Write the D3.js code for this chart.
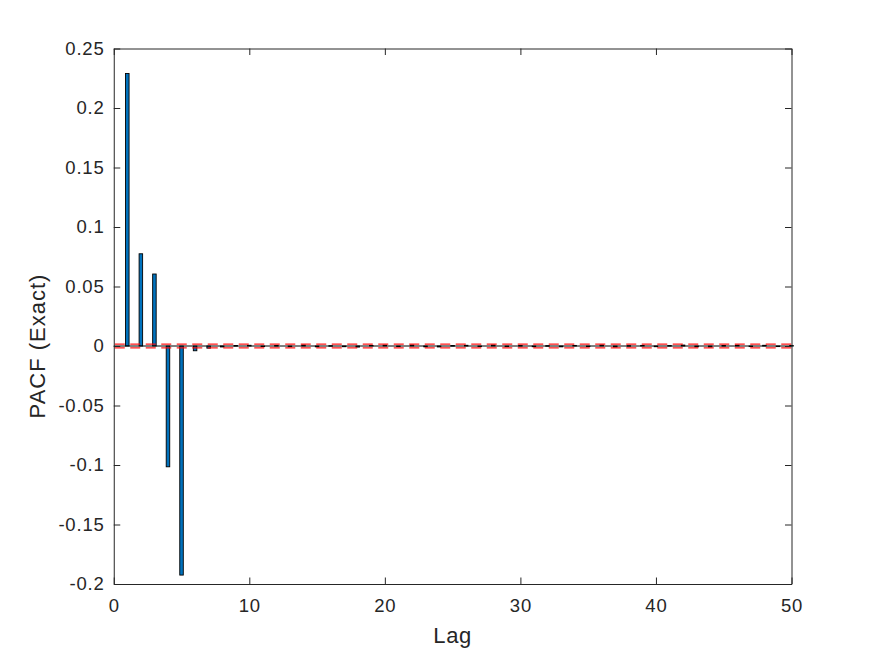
<!DOCTYPE html>
<html>
<head>
<meta charset="utf-8">
<script src="https://cdn.jsdelivr.net/npm/d3@7"></script>
<style>
  body { margin: 0; background: #fff; }
  svg { display: block; }
  text { font-family: "Liberation Sans", Arial, Helvetica, sans-serif; fill: #262626; }
</style>
</head>
<body>
<svg id="chart" width="875" height="656"></svg>
<script>
// ---- data ----
const lags = d3.range(1, 51);
const pacf = [
  0.229, 0.0775, 0.0605, -0.1015, -0.1925, -0.0040, -0.0018, -0.0008, 0.0004, 0.0006,
  -0.0005, 0.0004, -0.0006, 0.0008, -0.0007, 0.0003, -0.0006, -0.0009, 0.0005, 0.0007,
  -0.0004, 0.0008, -0.0007, -0.0008, 0.0004, 0.0006, -0.0003, 0.0008, -0.0005, 0.0004,
  -0.0006, 0.0003, -0.0007, 0.0005, -0.0004, 0.0008, -0.0008, 0.0003, 0.0005, -0.0006,
  0.0004, 0.0008, -0.0007, -0.0008, 0.0004, 0.0007, -0.0005, 0.0006, -0.0003, 0.0004
];
const confBound = 0.0016;
const xTicks = [0, 10, 20, 30, 40, 50];
const yTicks = [-0.2, -0.15, -0.1, -0.05, 0, 0.05, 0.1, 0.15, 0.2, 0.25];
const xLabel = "Lag";
const yLabel = "PACF (Exact)";

// ---- layout ----
const mLeft = 113.75, mRight = 791.5, mTop = 48.5, mBottom = 584;
const svg = d3.select("#chart");
const x = d3.scaleLinear().domain([0, 50]).range([mLeft, mRight]);
const y = d3.scaleLinear().domain([-0.2, 0.25]).range([mBottom, mTop]);
const axisColor = "#262626";
const barW = 0.26;

// bars
svg.append("g").selectAll("rect").data(lags).join("rect")
  .attr("x", d => x(d - barW / 2))
  .attr("width", x(barW) - x(0))
  .attr("y", (d, i) => y(Math.max(0, pacf[i])))
  .attr("height", (d, i) => Math.max(0.6, Math.abs(y(pacf[i]) - y(0))))
  .attr("fill", "#0072BD")
  .attr("stroke", "#000")
  .attr("stroke-width", 0.9);

// baseline
svg.append("line")
  .attr("x1", mLeft).attr("x2", mRight)
  .attr("y1", y(0)).attr("y2", y(0))
  .attr("stroke", "#000").attr("stroke-width", 1);

// confidence bounds
[confBound, -confBound].forEach(b => {
  svg.append("line")
    .attr("x1", mLeft + 1).attr("x2", mRight)
    .attr("y1", y(b)).attr("y2", y(b))
    .attr("stroke", "#FF0000").attr("stroke-width", 1.2)
    .attr("stroke-opacity", 0.9)
    .attr("stroke-dasharray", "10,5.5");
});

// axes (inside ticks, box)
const tickLen = 6.5;
const gx = svg.append("g").attr("transform", `translate(0,${mBottom})`)
  .call(d3.axisBottom(x).tickValues(xTicks).tickSizeInner(-tickLen).tickSizeOuter(0).tickPadding(15).tickFormat(d3.format("d")));
const gy = svg.append("g").attr("transform", `translate(${mLeft},0)`)
  .call(d3.axisLeft(y).tickValues(yTicks).tickSizeInner(-tickLen).tickSizeOuter(0).tickPadding(10).tickFormat(d => d === 0 ? "0" : String(+d.toFixed(2))));
const gxt = svg.append("g").attr("transform", `translate(0,${mTop})`)
  .call(d3.axisTop(x).tickValues(xTicks).tickSizeInner(-tickLen).tickSizeOuter(0).tickFormat(""));
const gyr = svg.append("g").attr("transform", `translate(${mRight},0)`)
  .call(d3.axisRight(y).tickValues(yTicks).tickSizeInner(-tickLen).tickSizeOuter(0).tickFormat(""));

[gx, gy, gxt, gyr].forEach(g => {
  g.select(".domain").attr("stroke", axisColor).attr("stroke-width", 1);
  g.selectAll(".tick line").attr("stroke", axisColor).attr("stroke-width", 1);
  g.selectAll(".tick text").attr("fill", axisColor)
    .style("font-family", '"Liberation Sans", Arial, sans-serif')
    .style("font-size", "18.5px")
    .style("letter-spacing", "0.8px");
});
gx.selectAll(".tick text").attr("dy", "0.71em");
gy.selectAll(".tick text").attr("dx", "0.8px");

// axis labels
svg.append("text")
  .attr("x", (mLeft + mRight) / 2).attr("y", 643)
  .attr("text-anchor", "middle")
  .style("font-size", "22px")
  .style("letter-spacing", "0.6px")
  .text(xLabel);
svg.append("text")
  .attr("transform", `translate(45,${y(0)}) rotate(-90)`)
  .attr("text-anchor", "middle")
  .style("font-size", "22px")
  .style("letter-spacing", "1px")
  .text(yLabel);
</script>
</body>
</html>
